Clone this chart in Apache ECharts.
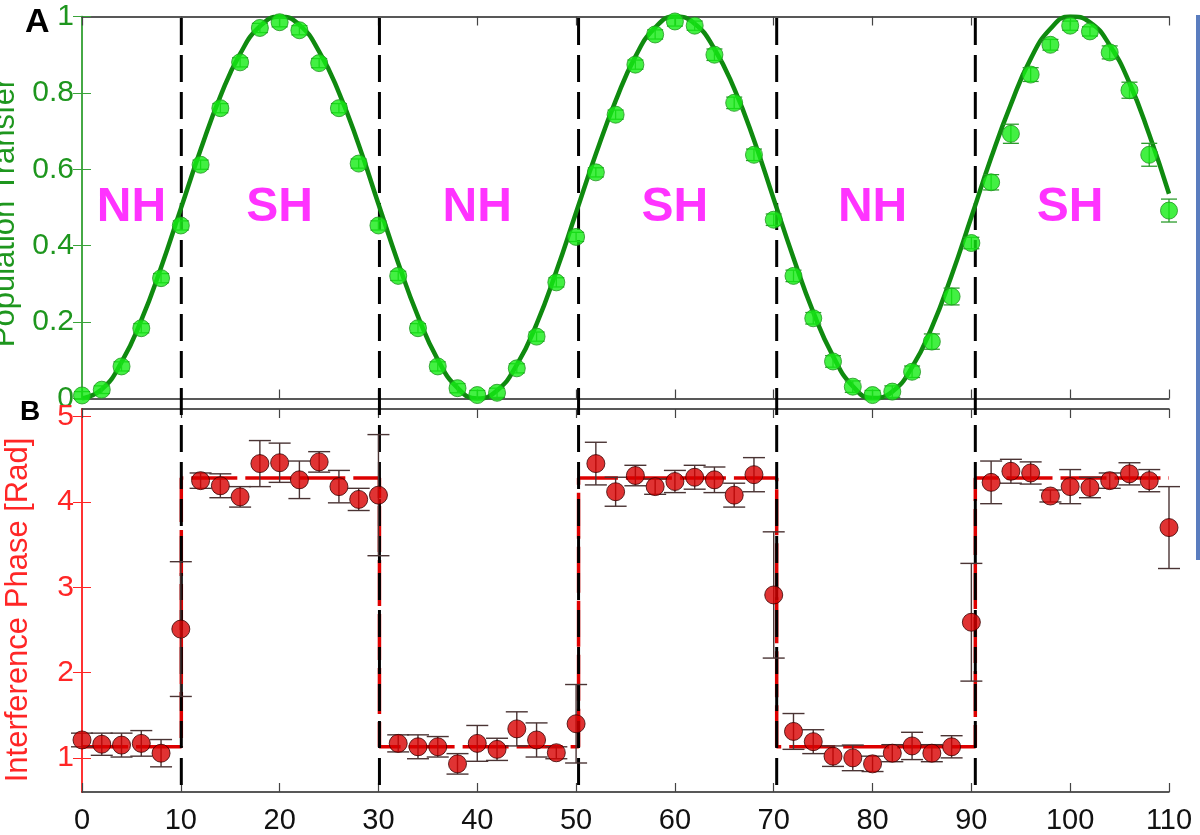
<!DOCTYPE html>
<html>
<head>
<meta charset="utf-8">
<script src="https://cdn.jsdelivr.net/npm/echarts@6/dist/echarts.min.js"></script>
<style>
  html, body { margin: 0; padding: 0; background: #fff; }
  #chart { width: 1200px; height: 835px; }
</style>
</head>
<body>
<div id="chart"></div>
<script>
// measurement positions (shared by both panels)
var shots = [0, 2, 4, 6, 8, 10, 12, 14, 16, 18, 20, 22, 24, 26, 28, 30, 32, 34, 36, 38,
  40, 42, 44, 46, 48, 50, 52, 54, 56, 58, 60, 62, 64, 66, 68, 70, 72, 74, 76, 78,
  80, 82, 84, 86, 88, 90, 92, 94, 96, 98, 100, 102, 104, 106, 108, 110];

// panel A - population transfer
var transferY = [0.008, 0.023, 0.084, 0.184, 0.315, 0.453, 0.612, 0.76, 0.88, 0.97,
  0.985, 0.964, 0.878, 0.76, 0.615, 0.453, 0.321, 0.184, 0.084, 0.027,
  0.009, 0.015, 0.079, 0.162, 0.304, 0.423, 0.592, 0.743, 0.874, 0.953,
  0.987, 0.976, 0.9, 0.774, 0.638, 0.468, 0.321, 0.21, 0.097, 0.031,
  0.009, 0.018, 0.07, 0.149, 0.267, 0.407, 0.566, 0.693, 0.848, 0.926,
  0.976, 0.961, 0.906, 0.807, 0.638, 0.492];
var transferErr = [0.01, 0.01, 0.012, 0.012, 0.012, 0.012, 0.012, 0.012, 0.012, 0.012,
  0.012, 0.012, 0.012, 0.012, 0.012, 0.012, 0.012, 0.012, 0.012, 0.012,
  0.012, 0.012, 0.012, 0.012, 0.012, 0.012, 0.012, 0.012, 0.012, 0.012,
  0.012, 0.012, 0.015, 0.015, 0.015, 0.015, 0.015, 0.015, 0.015, 0.015,
  0.012, 0.015, 0.015, 0.02, 0.022, 0.015, 0.02, 0.025, 0.018, 0.014,
  0.012, 0.012, 0.017, 0.021, 0.03, 0.03];
// fitted curve, read at the same positions
var fitY = [0, 0.024, 0.095, 0.205, 0.343, 0.497, 0.651, 0.791, 0.902, 0.974,
  1, 0.978, 0.908, 0.801, 0.664, 0.509, 0.355, 0.215, 0.102, 0.028,
  0, 0.021, 0.088, 0.195, 0.333, 0.487, 0.64, 0.779, 0.895, 0.971,
  1, 0.981, 0.915, 0.811, 0.677, 0.522, 0.368, 0.226, 0.111, 0.032,
  0.001, 0.018, 0.082, 0.186, 0.322, 0.475, 0.63, 0.77, 0.889, 0.968,
  1, 0.985, 0.925, 0.826, 0.691, 0.536];

// panel B - interference phase
var phaseY = [1.21, 1.16, 1.15, 1.17, 1.055, 2.51, 4.25, 4.19, 4.06, 4.45,
  4.46, 4.26, 4.47, 4.18, 4.03, 4.08, 1.17, 1.13, 1.13, 0.93,
  1.17, 1.10, 1.34, 1.21, 1.06, 1.40, 4.45, 4.12, 4.31, 4.18,
  4.24, 4.29, 4.26, 4.08, 4.32, 2.91, 1.31, 1.19, 1.02, 1.00,
  0.93, 1.055, 1.14, 1.055, 1.13, 2.59, 4.23, 4.36, 4.34, 4.07,
  4.18, 4.17, 4.25, 4.33, 4.25, 3.70];
var phaseErr = [0.08, 0.13, 0.14, 0.15, 0.16, 0.79, 0.09, 0.14, 0.12, 0.27,
  0.23, 0.22, 0.12, 0.19, 0.13, 0.71, 0.1, 0.14, 0.12, 0.12,
  0.21, 0.13, 0.2, 0.2, 0.07, 0.46, 0.25, 0.17, 0.12, 0.09,
  0.13, 0.14, 0.15, 0.14, 0.2, 0.74, 0.21, 0.14, 0.12, 0.15,
  0.09, 0.1, 0.16, 0.1, 0.13, 0.69, 0.25, 0.14, 0.13, 0.07,
  0.2, 0.12, 0.09, 0.13, 0.13, 0.48];
var phaseLow = 1.13;
var phaseHigh = 4.28;

// region boundaries (dashed lines) and labels
var boundaries = [10.05, 30.1, 50.25, 70.3, 90.4];
var regionX = [5, 20, 40, 60, 80, 100];
var regionNames = ['NH', 'SH', 'NH', 'SH', 'NH', 'SH'];

var FONT = '"Liberation Sans", Arial, Helvetica, sans-serif';
var GREEN = '#1e961e';
var RED = '#ff2626';
var A_TOP = 16.5, A_H = 382;
var B_TOP = 409, B_H = 383;

var chart = echarts.init(document.getElementById('chart'));

function pairs(xs, ys, es) {
  return xs.map(function (x, i) { return es ? [x, ys[i], es[i]] : [x, ys[i]]; });
}

// step fit: low in NH, high in SH
var stepData = [[0, phaseLow]];
boundaries.forEach(function (b, i) {
  var from = i % 2 === 0 ? phaseLow : phaseHigh;
  var to = i % 2 === 0 ? phaseHigh : phaseLow;
  stepData.push([b, from], [b, to]);
});
stepData.push([110, phaseHigh]);

function errorBars(capHalf, color, width) {
  return function (params, api) {
    var x = api.value(0), y = api.value(1), e = api.value(2);
    var hi = api.coord([x, y + e]);
    var lo = api.coord([x, y - e]);
    var st = { stroke: color, lineWidth: width };
    return {
      type: 'group',
      children: [
        { type: 'line', shape: { x1: hi[0], y1: hi[1], x2: lo[0], y2: lo[1] }, style: st },
        { type: 'line', shape: { x1: hi[0] - capHalf, y1: hi[1], x2: hi[0] + capHalf, y2: hi[1] }, style: st },
        { type: 'line', shape: { x1: lo[0] - capHalf, y1: lo[1], x2: lo[0] + capHalf, y2: lo[1] }, style: st }
      ]
    };
  };
}

function xAx(grid, pos, showLabel) {
  return {
    type: 'value', gridIndex: grid, position: pos, min: 0, max: 110, interval: 10,
    axisLine: { onZero: false, lineStyle: { color: '#222', width: 1.5 } },
    axisTick: { show: true, inside: true, length: 9, lineStyle: { color: '#444', width: 1.2 } },
    axisLabel: { show: showLabel, fontSize: 29, color: '#111', fontFamily: FONT, margin: 14 },
    splitLine: { show: false }
  };
}

var option = {
  animation: false,
  backgroundColor: '#fff',
  grid: [
    { left: 82, right: 31, top: A_TOP, height: A_H, outerBoundsMode: 'none' },
    { left: 82, right: 31, top: B_TOP, height: B_H, outerBoundsMode: 'none' }
  ],
  xAxis: [xAx(0, 'bottom', false), xAx(0, 'top', false), xAx(1, 'bottom', true), xAx(1, 'top', false)],
  yAxis: [
    {
      type: 'value', gridIndex: 0, position: 'left', min: 0, max: 1, interval: 0.2,
      name: 'Population Transfer', nameLocation: 'middle', nameGap: 56,
      nameTextStyle: { fontSize: 31, color: GREEN, fontFamily: FONT, padding: [0, 10, 0, 0] },
      axisLine: { lineStyle: { color: '#3aa33a', width: 1.5 } },
      axisTick: { inside: true, length: 9, lineStyle: { color: '#3aa33a' } },
      axisLabel: { fontSize: 30, color: GREEN, fontFamily: FONT, margin: 8 },
      splitLine: { show: false }
    },
    {
      type: 'value', gridIndex: 0, position: 'right', min: 0, max: 1, interval: 0.2,
      axisLine: { lineStyle: { color: '#3aa33a', width: 1.5 } },
      axisTick: { inside: true, length: 9, lineStyle: { color: '#3aa33a' } },
      axisLabel: { show: false }, splitLine: { show: false }
    },
    {
      type: 'value', gridIndex: 1, position: 'left', min: 0.6, max: 5.09,
      name: 'Interference Phase [Rad]', nameLocation: 'middle', nameGap: 48,
      nameTextStyle: { fontSize: 31, color: RED, fontFamily: FONT, padding: [0, 19, 0, 0] },
      axisLine: { lineStyle: { color: RED, width: 1.5 } },
      axisTick: { inside: true, length: 9, lineStyle: { color: RED }, customValues: [1, 2, 3, 4, 5] },
      axisLabel: { fontSize: 30, color: RED, fontFamily: FONT, margin: 8, customValues: [1, 2, 3, 4, 5] },
      splitLine: { show: false }
    },
    {
      type: 'value', gridIndex: 1, position: 'right', min: 0.6, max: 5.09,
      axisLine: { lineStyle: { color: RED, width: 1.5 } },
      axisTick: { inside: true, length: 9, lineStyle: { color: RED }, customValues: [1, 2, 3, 4, 5] },
      axisLabel: { show: false }, splitLine: { show: false }
    }
  ],
  series: [
    {
      // step fit for the phase
      type: 'line', xAxisIndex: 2, yAxisIndex: 2, data: stepData, z: 1,
      symbol: 'none', lineStyle: { color: '#dd0000', width: 3.5, type: [46, 8] }
    },
    {
      // dashed region boundaries through both panels
      type: 'custom', xAxisIndex: 0, yAxisIndex: 0, z: 2, clip: false,
      data: boundaries.map(function (b) { return [b, 1]; }),
      renderItem: function (params, api) {
        var p = api.coord([api.value(0), 1]);
        return {
          type: 'line',
          shape: { x1: p[0], y1: p[1] + 1.5, x2: p[0], y2: B_TOP + B_H },
          style: { stroke: '#000', lineWidth: 3, lineDash: [27, 10] }
        };
      }
    },
    {
      type: 'line', xAxisIndex: 0, yAxisIndex: 0, data: pairs(shots, fitY), z: 3,
      smooth: 0.5, symbol: 'none', lineStyle: { color: '#0f8a0f', width: 4.5 }
    },
    {
      type: 'custom', xAxisIndex: 0, yAxisIndex: 0, z: 4,
      data: pairs(shots, transferY, transferErr),
      encode: { x: 0, y: 1 },
      renderItem: errorBars(8, '#2c9c2c', 1.3)
    },
    {
      type: 'scatter', xAxisIndex: 0, yAxisIndex: 0, z: 5, data: pairs(shots, transferY),
      symbolSize: 17, itemStyle: { color: '#14ec14', borderColor: '#1f961f', borderWidth: 1 }
    },
    {
      type: 'custom', xAxisIndex: 2, yAxisIndex: 2, z: 4,
      data: pairs(shots, phaseY, phaseErr),
      encode: { x: 0, y: 1 },
      renderItem: errorBars(11, '#4a3434', 1.4)
    },
    {
      type: 'scatter', xAxisIndex: 2, yAxisIndex: 2, z: 5, data: pairs(shots, phaseY),
      symbolSize: 18, itemStyle: { color: '#d80000', borderColor: '#3a0000', borderWidth: 1 }
    },
    {
      // region names
      type: 'scatter', xAxisIndex: 0, yAxisIndex: 0, z: 6, symbolSize: 0,
      data: regionX.map(function (x) { return [x, 0.5]; }),
      label: {
        show: true, position: 'inside',
        formatter: function (p) { return regionNames[p.dataIndex]; },
        fontSize: 48, fontWeight: 'bold', color: '#ff00ff', fontFamily: FONT
      }
    }
  ],
  graphic: [
    { type: 'text', left: 25, top: 6, style: { text: 'A', fill: '#000', font: 'bold 34px ' + FONT } },
    { type: 'text', left: 20, top: 398, style: { text: 'B', fill: '#000', font: 'bold 28px ' + FONT } },
    { type: 'rect', left: 1196, top: 15, shape: { width: 4, height: 545 }, style: { fill: '#5a7dbf' } }
  ]
};

chart.setOption(option);
</script>
</body>
</html>
